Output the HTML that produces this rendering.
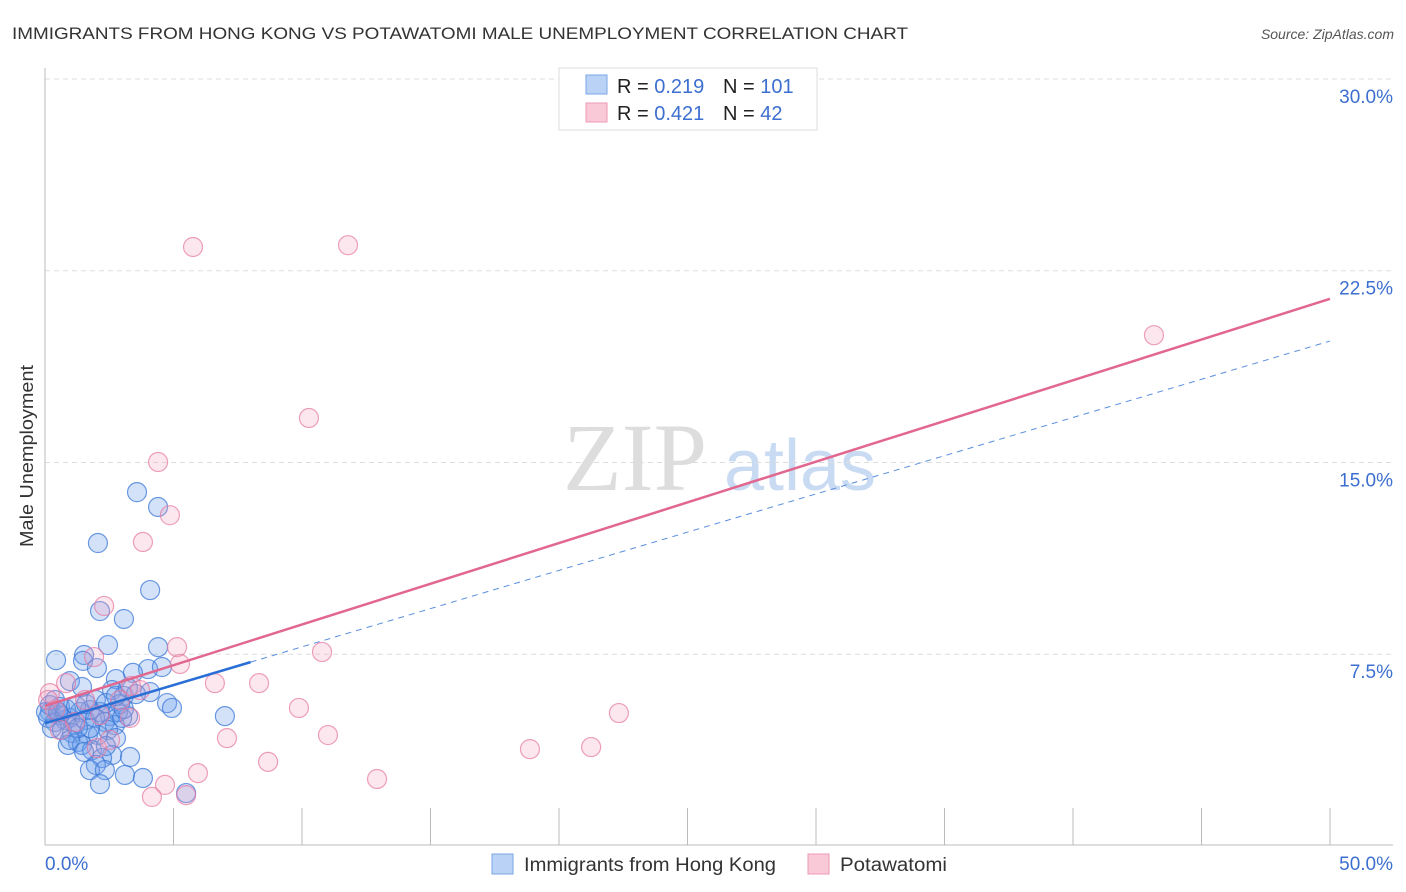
<!DOCTYPE html>
<html><head><meta charset="utf-8"><style>
body{margin:0;background:#fff;font-family:"Liberation Sans",sans-serif;}
svg{display:block}
</style></head><body>
<svg id="chart" width="1406" height="892">
<text x="12" y="39" font-size="17" fill="#333" textLength="896" lengthAdjust="spacingAndGlyphs">IMMIGRANTS FROM HONG KONG VS POTAWATOMI MALE UNEMPLOYMENT CORRELATION CHART</text>
<text x="1394" y="39" font-size="14" fill="#555" font-style="italic" text-anchor="end">Source: ZipAtlas.com</text>
<text x="33" y="456" font-size="18" fill="#333" text-anchor="middle" textLength="182" lengthAdjust="spacingAndGlyphs" transform="rotate(-90 33 456)">Male Unemployment</text>
<g>
<text x="635" y="490" font-size="96" fill="#ddd" font-family="Liberation Serif" text-anchor="middle">ZIP</text>
<text x="800" y="490" font-size="72" fill="#c9daf3" text-anchor="middle">atlas</text>
</g>
<g id="grid"></g><g id="axes"></g><g id="lines"></g><g id="pts"></g>
<g>
<rect x="559" y="68" width="258" height="62" fill="#fff" stroke="#ddd"/>
<rect x="586" y="75" width="21" height="19" fill="#b9d2f5" stroke="#7aa6e6"/>
<rect x="586" y="103" width="21" height="19" fill="#fac9d8" stroke="#ee9ab5"/>
<text x="617" y="93" font-size="20" fill="#222">R = <tspan fill="#3d6fd0">0.219</tspan></text>
<text x="723" y="93" font-size="20" fill="#222">N = <tspan fill="#3d6fd0">101</tspan></text>
<text x="617" y="120" font-size="20" fill="#222">R = <tspan fill="#3d6fd0">0.421</tspan></text>
<text x="723" y="120" font-size="20" fill="#222">N = <tspan fill="#3d6fd0"> 42</tspan></text>
</g>
<g>
<rect x="492" y="854" width="21" height="20" fill="#b9d2f5" stroke="#7aa6e6"/>
<text x="524" y="871" font-size="19" fill="#333" textLength="252" lengthAdjust="spacingAndGlyphs">Immigrants from Hong Kong</text>
<rect x="808" y="854" width="21" height="20" fill="#fac9d8" stroke="#ee9ab5"/>
<text x="840" y="871" font-size="19" fill="#333" textLength="107" lengthAdjust="spacingAndGlyphs">Potawatomi</text>
</g>
</svg>
<script>
const xTicks=[0,5,10,15,20,25,30,35,40,45,50];
const yTicks=[7.5,15,22.5,30];
const yTickLabels=["7.5%","15.0%","22.5%","30.0%"];
const blueX=[3.58,4.40,2.06,4.09,2.14,3.07,2.45,4.40,0.43,1.52,1.48,2.02,4.01,4.55,3.42,2.76,0.97,1.44,2.61,4.09,3.07,3.54,4.75,4.94,7.00,2.92,3.23,2.53,2.14,1.75,1.36,0.97,0.58,0.19,0.12,0.39,0.78,1.17,1.56,1.95,2.33,2.72,0.27,0.66,1.05,1.67,2.06,2.45,2.76,1.28,0.89,1.44,1.83,2.61,2.22,3.31,1.98,1.75,2.33,3.11,3.81,2.14,5.49,0.39,0.58,0.19,0.82,1.21,1.60,1.98,2.37,2.84,3.00,3.07,0.04,0.51,1.75,1.28,0.97,1.52,2.76,3.23,2.37];
const blueY=[13.84,13.26,11.85,10.01,9.19,8.88,7.86,7.78,7.27,7.47,7.24,6.96,6.92,7.00,6.77,6.53,6.45,6.22,6.10,6.02,5.87,5.94,5.59,5.40,5.08,5.55,5.08,5.08,5.24,5.32,5.24,5.01,5.12,5.24,5.01,4.85,4.93,4.73,4.93,5.01,4.85,4.73,4.61,4.54,4.42,4.34,4.34,4.54,4.22,4.07,3.95,3.95,3.75,3.56,3.44,3.48,3.17,2.97,2.97,2.78,2.66,2.42,2.07,5.71,5.44,5.51,5.36,5.48,5.55,5.71,5.59,5.24,5.01,5.36,5.24,5.24,4.61,4.61,4.15,3.68,5.87,6.18,3.91];
const pinkX=[5.76,11.79,43.15,10.27,4.40,4.86,3.81,2.30,5.14,1.91,5.25,10.78,0.82,3.35,6.61,8.33,0.19,3.70,9.88,22.33,11.01,7.08,2.02,8.68,18.87,21.25,12.92,5.95,4.67,4.16,5.49,0.39,1.17,2.14,2.92,0.58,1.56,3.31,2.53,0.12];
const pinkY=[23.43,23.50,19.98,16.74,15.02,12.94,11.89,9.39,7.78,7.39,7.12,7.59,6.37,6.26,6.37,6.37,5.98,6.10,5.40,5.20,4.34,4.22,3.83,3.29,3.79,3.87,2.62,2.85,2.39,1.92,1.99,5.32,4.85,5.12,5.71,4.54,5.71,5.01,4.15,5.71];
const blueTrend=[4.8,19.75];const pinkTrend=[5.48,21.4];const blueSolidEnd=8;
const X=v=>45+v*25.7, Y=v=>846-v*25.567;
const NS="http://www.w3.org/2000/svg";
function mk(p,t,a){const e=document.createElementNS(NS,t);for(const k in a)e.setAttribute(k,a[k]);p.appendChild(e);return e;}
const grid=document.getElementById('grid'),axes=document.getElementById('axes'),lines=document.getElementById('lines'),pts=document.getElementById('pts');
yTicks.forEach((t,i)=>{const l=mk(grid,'line',{x1:45,x2:1393,y1:Y(t),y2:Y(t),stroke:'#ddd','stroke-dasharray':'5,4'});


const tx=mk(axes,'text',{x:1393,y:Y(t)+24,'font-size':19,fill:'#3d6fd0','text-anchor':'end'});tx.textContent=yTickLabels[i];

});
mk(axes,'line',{x1:45,x2:45,y1:68,y2:845,stroke:'#bbb'});
mk(axes,'line',{x1:45,x2:1393,y1:845,y2:845,stroke:'#bbb'});
xTicks.forEach(t=>{const l=mk(axes,'line',{x1:X(t),x2:X(t),y1:808,y2:845,stroke:'#bbb'});

});
const xl0=mk(axes,'text',{x:45,y:870,'font-size':19,fill:'#3d6fd0'});xl0.textContent='0.0%';


const xl1=mk(axes,'text',{x:1393,y:870,'font-size':19,fill:'#3d6fd0','text-anchor':'end'});xl1.textContent='50.0%';


blueX.forEach((x,i)=>{const c=mk(pts,'circle',{cx:X(x),cy:Y(blueY[i]),r:9.5,fill:'rgba(110,160,235,0.3)',stroke:'rgba(60,120,215,0.75)','stroke-width':1.2});

});
pinkX.forEach((x,i)=>{const c=mk(pts,'circle',{cx:X(x),cy:Y(pinkY[i]),r:9.5,fill:'rgba(245,160,190,0.25)',stroke:'rgba(230,120,160,0.7)','stroke-width':1.2});

});
const bAt=x=>blueTrend[0]+(blueTrend[1]-blueTrend[0])*x/50, pAt=x=>pinkTrend[0]+(pinkTrend[1]-pinkTrend[0])*x/50;
let l=mk(lines,'line',{x1:X(blueSolidEnd),y1:Y(bAt(blueSolidEnd)),x2:X(50),y2:Y(bAt(50)),stroke:'#5a8fdd','stroke-width':1,'stroke-dasharray':'6,5'});


l=mk(pts,'line',{x1:X(0),y1:Y(bAt(0)),x2:X(blueSolidEnd),y2:Y(bAt(blueSolidEnd)),stroke:'#2a6fd6','stroke-width':2.5});


l=mk(pts,'line',{x1:X(0),y1:Y(pAt(0)),x2:X(50),y2:Y(pAt(50)),stroke:'#e2678f','stroke-width':2.5});


</script>
</body></html>
